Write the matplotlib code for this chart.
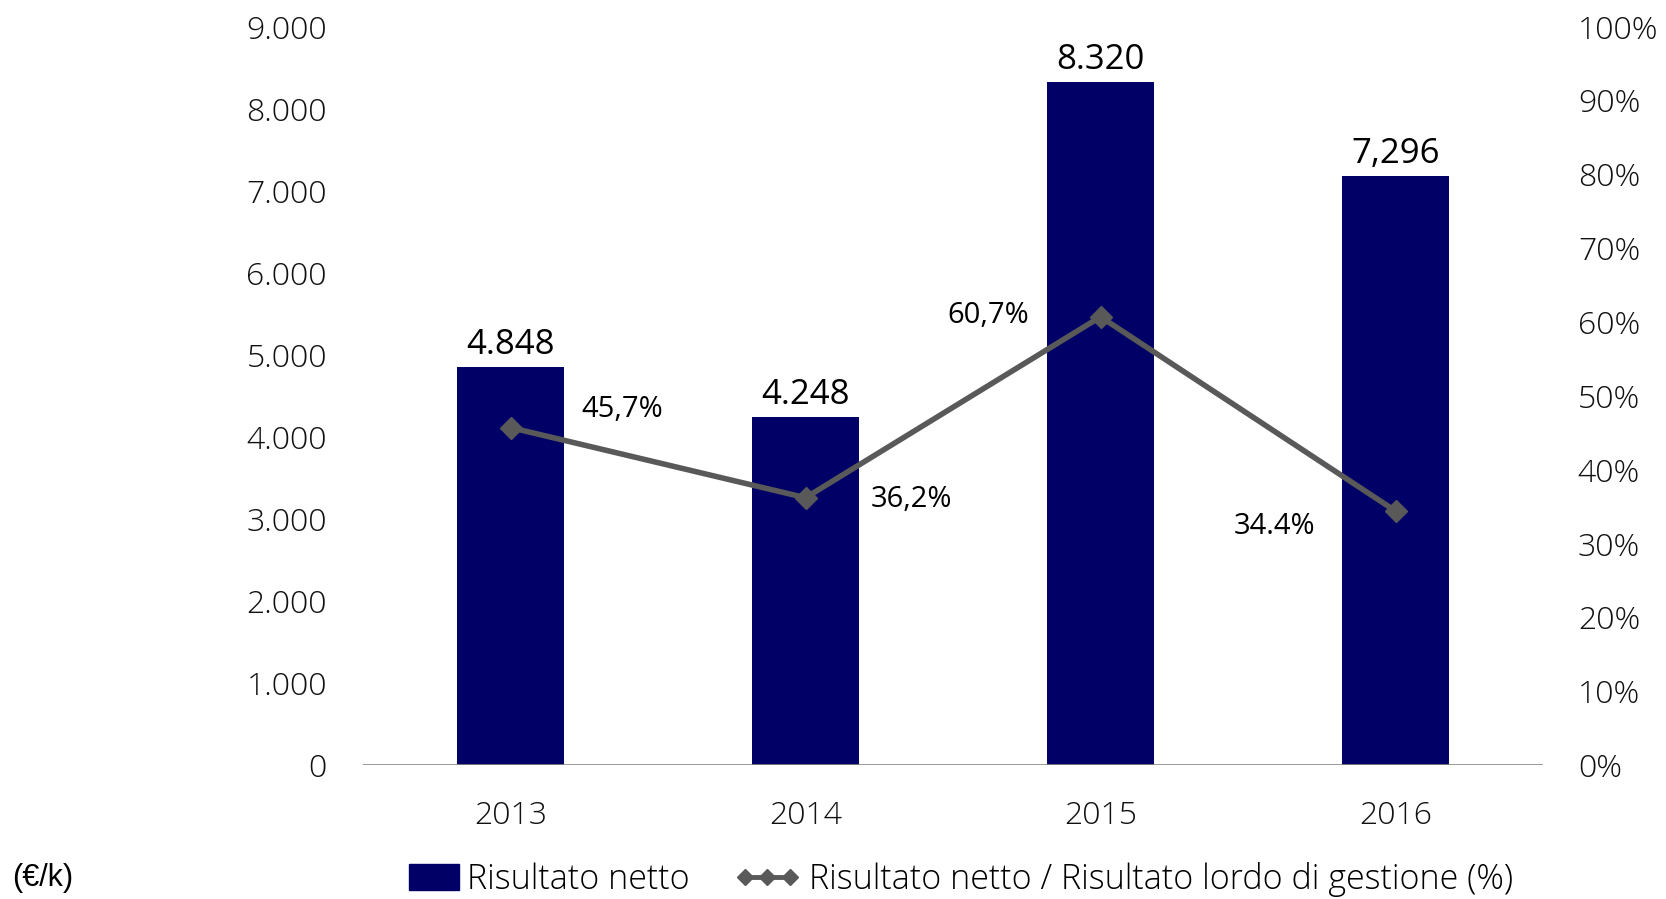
import matplotlib
matplotlib.use("Agg")
import matplotlib.pyplot as plt
from matplotlib import font_manager as fm
from matplotlib.lines import Line2D
from matplotlib.patches import Patch, Rectangle
from matplotlib.legend_handler import HandlerPatch

years = ["2013", "2014", "2015", "2016"]
risultato_netto = [4848, 4248, 8320, 7180]
bar_labels = ["4.848", "4.248", "8.320", "7,296"]
ratio_pct = [45.7, 36.2, 60.7, 34.4]
ratio_labels = ["45,7%", "36,2%", "60,7%", "34.4%"]
left_ticks = [0, 1000, 2000, 3000, 4000, 5000, 6000, 7000, 8000, 9000]
left_ticklabels = ["0", "1.000", "2.000", "3.000", "4.000", "5.000", "6.000", "7.000", "8.000", "9.000"]
right_ticks = [0, 10, 20, 30, 40, 50, 60, 70, 80, 90, 100]
right_ticklabels = [f"{v}%" for v in right_ticks]

light_weight = "normal"
for f in fm.fontManager.ttflist:
    if f.name == "Open Sans" and f.weight in (300, "light"):
        light_weight = "light"
tick_font = "Open Sans"
label_font = "Open Sans"

BAR = "#000066"
LINE = "#595959"

fig = plt.figure(figsize=(16.66, 8.99), dpi=100)
ax = fig.add_axes([0.2179, 0.149, 0.7083, 0.8214])
ax2 = ax.twinx()

x = list(range(len(years)))
ax.bar(x, risultato_netto, width=0.365, color=BAR, zorder=2)
ax.set_xlim(-0.5, 3.5)
ax.set_ylim(0, 9000)
ax2.set_ylim(0, 100)

tk = dict(fontfamily=tick_font, fontsize=23, color="#111111", fontweight=light_weight)
ax.set_yticks(left_ticks)
ax.set_yticklabels(left_ticklabels, **tk)
ax2.set_yticks(right_ticks)
ax2.set_yticklabels(right_ticklabels, **tk)
ax.set_xticks(x)
ax.set_xticklabels(years, **tk)

ax.tick_params(axis="y", length=0, pad=26)
ax2.tick_params(axis="y", length=0, pad=25)
ax.tick_params(axis="x", length=0, pad=25)

for a in (ax, ax2):
    for s in ("top", "left", "right", "bottom"):
        a.spines[s].set_visible(False)
ax.axhline(0, color="#888888", lw=1.2, zorder=3)

ax2.plot(x, ratio_pct, color=LINE, lw=4, marker="D", markersize=11, zorder=4)

for xi, v, lab in zip(x, risultato_netto, bar_labels):
    ax.text(xi, v + 60, lab, ha="center", va="bottom", fontfamily=label_font, fontsize=25, color="black")

offsets = [(0.38, 2.5), (0.36, -0.3), (-0.38, 0.2), (-0.41, -2.1)]
for xi, v, lab, (dx, dy) in zip(x, ratio_pct, ratio_labels, offsets):
    ax2.text(xi + dx, v + dy, lab, ha="center", va="center", fontfamily=label_font, fontsize=21, color="black")


def short_patch(legend, orig_handle, xdescent, ydescent, width, height, fontsize):
    w = width * 0.75
    return Rectangle((-xdescent + width - w, -ydescent - 1), w, height + 2)


handles = [Patch(facecolor=BAR, edgecolor=BAR),
           Line2D([0], [0], color=LINE, lw=3.5, marker="D", markersize=8)]
leg = fig.legend(handles, ["Risultato netto", "Risultato netto / Risultato lordo di gestione (%)"],
                 loc="center", bbox_to_anchor=(0.572, 0.022), ncol=2, frameon=False,
                 prop={"family": label_font, "size": 24.5, "weight": light_weight},
                 handlelength=1.95, handletextpad=0.25, columnspacing=1.3, numpoints=3,
                 handler_map={Patch: HandlerPatch(patch_func=short_patch)})

fig.text(0.007, 0.023, "(€/k)", ha="left", va="center", fontfamily="Liberation Sans", fontsize=22)

fig.savefig("out.png", dpi=100)
